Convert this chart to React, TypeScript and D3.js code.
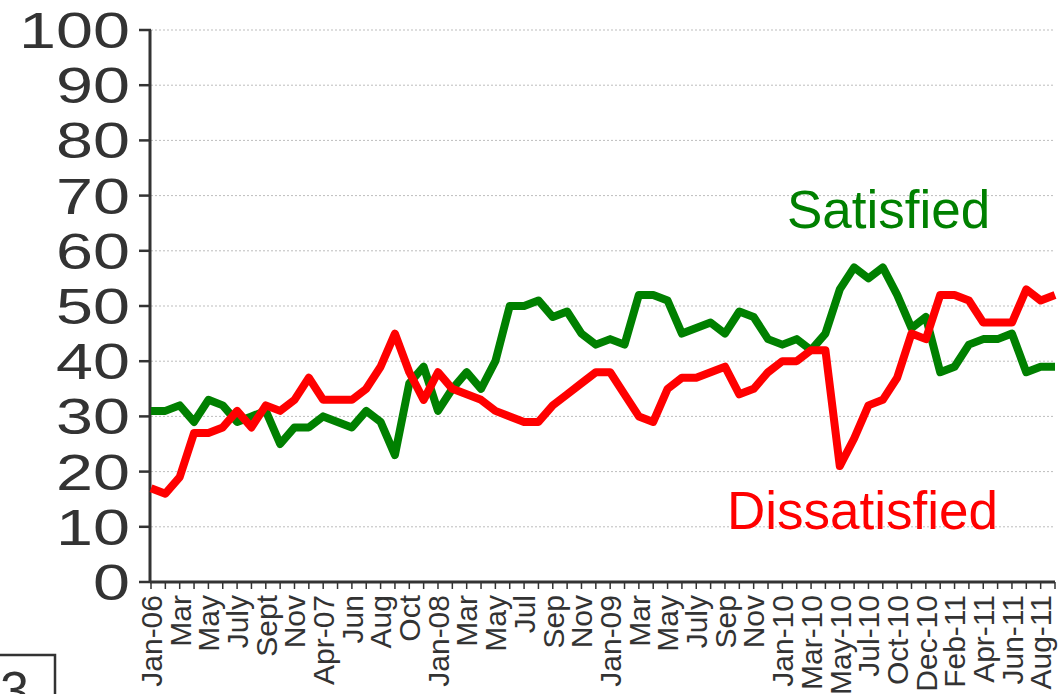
import * as d3 from "d3";

// two series, one value per survey (64 surveys, Jan-06 .. Sep-11)
const satisfied = [31, 31, 32, 29, 33, 32, 29, 30, 31, 25, 28,
    28, 30, 29, 28, 31, 29, 23, 36, 39, 31,
    35, 38, 35, 40, 50, 50, 51, 48, 49, 45, 43,
    44, 43, 52, 52, 51, 45, 46, 47, 45, 49,
    48, 44, 43, 44, 42, 45, 53, 57, 55, 57,
    52, 46, 48, 38, 39, 43, 44, 44, 45, 38, 39, 39];
const dissatisfied = [17, 16, 19, 27, 27, 28, 31, 28, 32, 31, 33,
    37, 33, 33, 33, 35, 39, 45, 38, 33, 38,
    35, 34, 33, 31, 30, 29, 29, 32, 34, 36, 38,
    38, 34, 30, 29, 35, 37, 37, 38, 39, 34,
    35, 38, 40, 40, 42, 42, 21, 26, 32, 33,
    37, 45, 44, 52, 52, 51, 47, 47, 47, 53, 51, 52];
// every second survey gets a label
const tickLabels = ["Jan-06", "Mar", "May", "July", "Sept", "Nov", "Apr-07", "Jun", "Aug", "Oct",
    "Jan-08", "Mar", "May", "Jul", "Sep", "Nov", "Jan-09", "Mar", "May", "July", "Sep", "Nov",
    "Jan-10", "Mar-10", "May-10", "Jul-10", "Oct-10", "Dec-10", "Feb-11", "Apr-11", "Jun-11", "Aug-11"];
const yTicks = [0, 10, 20, 30, 40, 50, 60, 70, 80, 90, 100];

const width = 1064;
const height = 694;
const marginLeft = 151;
const marginRight = 9;
const marginTop = 30;
const plotBottom = 582;
const font = "'Liberation Sans', Arial, sans-serif";

const App = () => {
    const x = d3.scalePoint<number>().domain(d3.range(satisfied.length)).range([marginLeft, width - marginRight]);
    const y = d3.scaleLinear().domain([0, 100]).range([plotBottom, marginTop]);
    const line = d3.line<number>().x((d, i) => x(i) as number).y(d => y(d));

    return (
        <svg width={width} height={height} style={{ position: 'absolute', left: 0, top: 0, display: 'block', background: '#fff' }}>
            <g>
                { yTicks.filter(t => t > 0).map(t => (
                    <line key={t} x1={marginLeft} x2={width - marginRight} y1={y(t)} y2={y(t)} stroke="#bdbdbd" strokeWidth={1} strokeDasharray="2,2" />
                )) }
            </g>
            <g fontFamily={font} fontSize={50} fill="#333" textAnchor="end">
                { yTicks.map(t => (
                    <g key={t}>
                        <line x1={139} x2={marginLeft} y1={y(t)} y2={y(t)} stroke="#333" strokeWidth={2.5} />
                        {/* the labels in the original are drawn wide */}
                        <text transform={`translate(130,${y(t)}) scale(1.33,1)`} dy="0.36em">{t}</text>
                    </g>
                )) }
            </g>
            <g>
                { x.domain().map(i => (
                    <line key={i} x1={x(i)} x2={x(i)} y1={plotBottom} y2={plotBottom + 7} stroke="#333" strokeWidth={1.5} />
                )) }
            </g>
            <g fontFamily={font} fontSize={30} fill="#333" textAnchor="end">
                { tickLabels.map((lab, k) => {
                    const px = x(k * 2) as number;
                    return (
                        <text key={k} transform={`translate(${px},${plotBottom + 13}) rotate(-90)`} dy="0.36em">{lab}</text>
                    );
                }) }
            </g>
            <line x1={marginLeft - 1} x2={marginLeft - 1} y1={marginTop} y2={plotBottom + 1} stroke="#333" strokeWidth={3} />
            <line x1={marginLeft - 1} x2={width - marginRight} y1={plotBottom} y2={plotBottom} stroke="#333" strokeWidth={3} />
            <path d={line(satisfied) ?? ''} fill="none" stroke="#008000" strokeWidth={8} strokeLinejoin="round" />
            <path d={line(dissatisfied) ?? ''} fill="none" stroke="#ff0000" strokeWidth={8} strokeLinejoin="round" />
            <text x={787} y={228} fontFamily={font} fontSize={53} fill="#008000">Satisfied</text>
            <text x={727} y={529} fontFamily={font} fontSize={53} fill="#ff0000">Dissatisfied</text>
            <rect x={-3} y={655} width={58} height={60} fill="#fff" stroke="#333" strokeWidth={2.5} />
            <text x={0} y={708} fontFamily={font} fontSize={52} fill="#333">3</text>
        </svg>
    );
};

export default App;
